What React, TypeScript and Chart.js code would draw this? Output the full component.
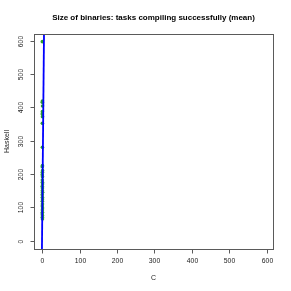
import React, { useEffect, useRef } from "react";
import { Chart, registerables } from "chart.js";

Chart.register(...registerables);

const cValues = [0.3, 0.6, 0.2, 0.8, 0.4, 0.1, 0.7, 0.3, 0.5, 0.6, 0.2, 0.9, 0.4, 0.1, 0.7, 0.3, 0.5, 0.8, 0.2, 0.6, 0.4, 0.9, 0.1, 0.5, 0.7, 0.3, 0.6, 0.2, 0.8, 0.4, 0.5, 0.1, 0.7, 0.3, 0.6];
const haskellValues = [597, 419, 415, 404, 387, 380, 372, 352, 280, 225, 222, 210, 205, 198, 192, 182, 175, 170, 163, 158, 150, 145, 138, 130, 125, 118, 110, 104, 98, 92, 85, 80, 75, 70, 65];
const fitLineC = [-1.2, 5.6];
const fitLineHaskell = [-80, 720];
const xTicks = [0, 100, 200, 300, 400, 500, 600];
const yTicks = [0, 100, 200, 300, 400, 500, 600];
const titleText = "Size of binaries: tasks compiling successfully (mean)";
const xTitle = "C";
const yTitle = "Haskell";

const FONT = "'Liberation Sans', Arial, Helvetica, sans-serif";

const rAxesPlugin = {
  id: "rAxes",
  afterDraw(chart: any) {
    const { ctx, chartArea } = chart;
    const xs = chart.scales.x;
    const ys = chart.scales.y;
    ctx.save();
    // box
    ctx.strokeStyle = "#5a5a5a";
    ctx.lineWidth = 1;
    ctx.strokeRect(
      Math.round(chartArea.left) + 0.5,
      Math.round(chartArea.top) + 0.5,
      Math.round(chartArea.right - chartArea.left),
      Math.round(chartArea.bottom - chartArea.top)
    );
    ctx.fillStyle = "#222";
    ctx.strokeStyle = "#5a5a5a";
    ctx.font = `6.8px ${FONT}`;
    // x ticks
    ctx.textAlign = "center";
    ctx.textBaseline = "middle";
    const bottom = Math.round(chartArea.bottom) + 0.5;
    xTicks.forEach((t) => {
      const px = Math.round(xs.getPixelForValue(t)) + 0.5;
      ctx.beginPath();
      ctx.moveTo(px, bottom);
      ctx.lineTo(px, bottom + 4);
      ctx.stroke();
      ctx.fillText(String(t), px, bottom + 12);
    });
    // y ticks
    const left = Math.round(chartArea.left) + 0.5;
    yTicks.forEach((t) => {
      const py = Math.round(ys.getPixelForValue(t)) + 0.5;
      ctx.beginPath();
      ctx.moveTo(left, py);
      ctx.lineTo(left - 4, py);
      ctx.stroke();
      ctx.save();
      ctx.translate(left - 13, py);
      ctx.rotate(-Math.PI / 2);
      ctx.fillText(String(t), 0, 0);
      ctx.restore();
    });
    // axis titles
    const cx = (chartArea.left + chartArea.right) / 2;
    const cy = (chartArea.top + chartArea.bottom) / 2;
    ctx.font = `7px ${FONT}`;
    ctx.fillText(xTitle, cx, 278);
    ctx.save();
    ctx.translate(7, cy);
    ctx.rotate(-Math.PI / 2);
    ctx.fillText(yTitle, 0, 0);
    ctx.restore();
    // main title
    ctx.fillStyle = "#000";
    ctx.font = `bold 8px ${FONT}`;
    ctx.fillText(titleText, cx, 18);
    ctx.restore();
  },
};

export default function App() {
  const canvasRef = useRef<HTMLCanvasElement>(null);
  useEffect(() => {
    document.body.style.margin = "0";
    const canvas = canvasRef.current;
    if (!canvas) return;
    const chart = new Chart(canvas, {
      type: "scatter",
      data: {
        datasets: [
          {
            type: "line",
            data: fitLineC.map((x, i) => ({ x, y: fitLineHaskell[i] })),
            borderColor: "#0000ff",
            borderWidth: 1.8,
            pointRadius: 0,
            fill: false,
            tension: 0,
          },
          {
            type: "scatter",
            data: cValues.map((x, i) => ({ x, y: haskellValues[i] })),
            backgroundColor: "#2ca02c",
            borderWidth: 0,
            pointRadius: 1.8,
          },
        ],
      },
      options: {
        animation: false,
        responsive: false,
        maintainAspectRatio: false,
        layout: { padding: { left: 34, top: 34, right: 18, bottom: 42 } },
        plugins: { legend: { display: false }, tooltip: { enabled: false }, title: { display: false } },
        scales: {
          x: { type: "linear", min: -22, max: 617, display: false },
          y: { type: "linear", min: -25, max: 620, display: false },
        },
      },
      plugins: [rAxesPlugin],
    });
    return () => chart.destroy();
  }, []);
  return (
    <div style={{ width: 291, height: 291, background: "#fff" }}>
      <canvas ref={canvasRef} width={291} height={291} style={{ display: "block" }} />
    </div>
  );
}
